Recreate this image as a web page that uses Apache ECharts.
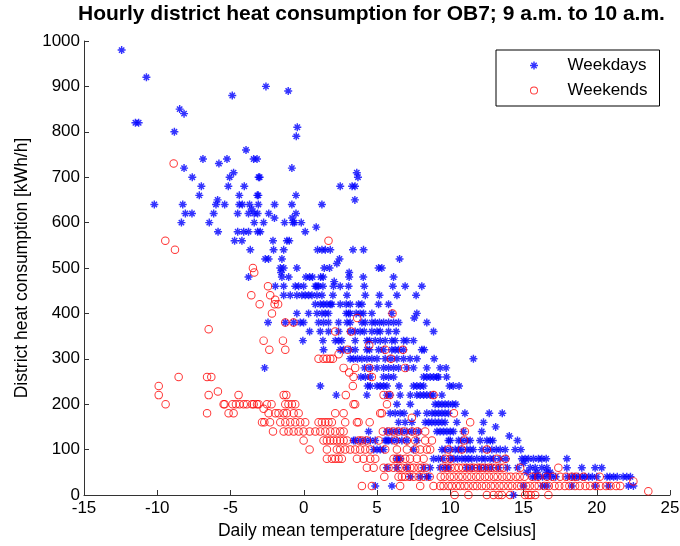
<!DOCTYPE html>
<html>
<head>
<meta charset="utf-8">
<script src="https://cdn.jsdelivr.net/npm/echarts@6/dist/echarts.min.js"></script>
<style>
  html, body { margin: 0; padding: 0; background: #fff; }
  #chart { width: 680px; height: 546px; }
</style>
</head>
<body>
<div id="chart"></div>
<script>
// Hourly district heat consumption (9-10 a.m.) against daily mean temperature.
// Each row: [consumption kWh/h, [daily mean temperatures in degC]]
const titleText = 'Hourly district heat consumption for OB7; 9 a.m. to 10 a.m.';
const xName = 'Daily mean temperature [degree Celsius]';
const yName = 'District heat consumption [kWh/h]';
const seriesNames = ['Weekdays', 'Weekends'];
const xTicks = [-15, -10, -5, 0, 5, 10, 15, 20, 25];
const yTicks = [0, 100, 200, 300, 400, 500, 600, 700, 800, 900, 1000];

const weekdayRows = [
  [980, [-12.43]],
  [920, [-10.74]],
  [900, [-2.58]],
  [890, [-1.06]],
  [880, [-4.88]],
  [850, [-8.47]],
  [840, [-8.17]],
  [820, [-11.49, -11.27]],
  [810, [-0.44]],
  [800, [-8.83]],
  [790, [-0.51]],
  [760, [-3.94]],
  [740, [-6.88, -5.24, -3.42, -3.19]],
  [730, [-5.79]],
  [720, [-8.17, -0.81]],
  [710, [-4.79, 3.62]],
  [700, [-7.61, -5.06, -3.08, -3.01, 3.7]],
  [680, [-6.99, -5.15, -4.06, 2.49, 3.3, 3.5]],
  [660, [-7.13, -4.4, -3.17, -3.1, -0.53]],
  [650, [-5.88, 3.49]],
  [640, [-10.2, -8.26, -5.99, -5.4, -4.4, -4.19, -3.7, -3.1, -1.99, -0.81, 1.24]],
  [630, [-3.55]],
  [620, [-8.08, -7.63, -6.15, -4.51, -3.77, -3.38, -3.15, -2.39, -0.53]],
  [610, [-2.0, -0.79]],
  [600, [-8.35, -6.45, -3.38, -2.74, -1.31, -0.74, -0.63, -0.17]],
  [590, [0.85]],
  [580, [-5.85, -4.51, -4.1, -3.77, -3.15, -2.97, 0.1]],
  [560, [-4.72, -4.22, -2.1, -1.15, -0.99]],
  [540, [-3.65, -2.06, -1.37, 0.94, 1.24, 1.47, 1.81, 3.36, 4.08]],
  [520, [-2.63, -2.4, -1.49, 2.44, 6.54]],
  [510, [2.26]],
  [500, [-1.6, -1.37, -0.47, 1.4, 1.76, 5.11, 5.33]],
  [490, [-1.55, 3.1]],
  [480, [-3.77, -1.49, -1.03, 0.15, 0.4, 0.6, 1.15, 1.33, 3.1, 4.06, 6.13]],
  [470, [2.08]],
  [460, [-1.94, -1.37, -0.58, -0.35, -0.01, 0.79, 0.9, 1.01, 1.31, 2.03, 2.49, 3.06, 4.13, 6.08, 6.92, 8.06]],
  [440, [-1.37, -0.92, -0.47, -0.13, 0.1, 0.33, 0.56, 0.9, 1.24, 1.99, 2.95, 4.2, 5.17, 6.36, 7.67]],
  [420, [0.79, 1.13, 1.35, 1.58, 1.81, 1.92, 2.49, 2.9, 3.17, 3.74, 3.97, 5.11, 5.79]],
  [400, [-0.47, 0.33, 0.9, 1.24, 1.47, 1.69, 2.9, 3.06, 3.17, 3.58, 3.85, 4.08, 4.65, 6.01, 7.72]],
  [390, [7.54]],
  [380, [-2.44, -1.26, -0.69, -0.24, -0.01, 1.01, 1.35, 1.69, 2.38, 2.95, 3.17, 3.97, 4.2, 4.65, 4.88, 5.17, 5.45, 5.79, 6.13, 6.47, 8.4]],
  [360, [0.4, 1.13, 1.69, 2.38, 3.17, 3.51, 3.85, 4.13, 4.65, 5.0, 5.22, 5.79, 6.31, 8.86]],
  [340, [-0.06, 1.31, 2.15, 2.38, 2.6, 3.51, 4.31, 4.49, 4.88, 5.22, 5.56, 6.01, 6.24, 6.81, 7.04, 7.49]],
  [320, [1.35, 2.49, 2.72, 3.17, 3.51, 4.31, 4.49, 5.11, 5.45, 6.01, 6.24, 6.47, 6.81, 8.06, 8.22]],
  [300, [3.17, 3.4, 3.67, 3.97, 4.31, 4.65, 5.0, 5.56, 5.95, 6.36, 6.81, 7.26, 7.72, 8.9, 11.58]],
  [280, [-2.67, 4.15, 4.54, 5.0, 5.45, 5.79, 6.13, 6.47, 7.04, 7.49, 8.4, 9.31, 9.72]],
  [260, [3.9, 4.2, 4.54, 5.45, 5.79, 6.13, 8.18, 8.4, 8.63, 8.86, 9.09, 9.2, 9.75]],
  [240, [1.13, 4.36, 4.54, 5.0, 5.22, 5.45, 5.68, 6.5, 7.49, 7.72, 7.95, 8.18, 9.95, 10.2, 10.6]],
  [220, [2.22, 4.31, 5.67, 5.9, 6.58, 7.27, 7.72, 7.95, 8.18, 8.4, 8.63, 8.86, 9.43]],
  [200, [6.36, 7.27, 8.97, 9.2, 9.43, 9.65, 9.88, 10.15, 10.38]],
  [180, [5.9, 6.24, 6.58, 6.85, 7.75, 8.4, 8.75, 8.97, 9.2, 9.43, 9.65, 9.88, 11.0, 12.66, 13.55]],
  [160, [6.47, 6.92, 7.38, 8.29, 8.52, 8.74, 8.97, 9.2, 9.43, 9.65, 10.45, 12.27]],
  [150, [13.1]],
  [140, [4.43, 5.68, 6.01, 6.36, 6.7, 7.04, 7.38, 7.84, 9.09, 9.31, 9.54, 9.77, 10.0, 10.22, 10.9, 12.15]],
  [130, [14.03]],
  [120, [3.4, 3.51, 3.85, 4.2, 4.54, 4.88, 5.56, 5.68, 5.79, 6.02, 6.36, 6.7, 7.04, 7.72, 9.88, 10.0, 10.56, 10.79, 11.13, 11.36, 12.04, 12.5, 12.73, 12.9, 14.59]],
  [100, [4.77, 5.0, 5.22, 5.45, 7.49, 9.43, 9.65, 10.0, 10.34, 10.56, 10.79, 11.13, 11.36, 11.58, 12.16, 12.54, 12.84, 13.14, 13.41, 13.75, 14.43, 14.82]],
  [80, [6.36, 6.58, 8.86, 9.2, 9.5, 10.0, 10.25, 10.5, 10.79, 11.02, 11.24, 11.47, 11.81, 12.15, 12.38, 12.72, 12.95, 13.4, 13.8, 14.89, 15.11, 15.34, 15.68, 16.02, 16.25, 16.55, 17.96]],
  [70, [15.0]],
  [60, [5.68, 6.36, 7.04, 8.18, 8.63, 9.31, 9.65, 9.88, 11.13, 11.5, 12.0, 12.4, 12.8, 13.3, 13.9, 14.6, 15.46, 15.8, 16.25, 16.59, 17.96, 18.98, 19.89, 20.34]],
  [50, [15.23, 15.91, 16.59, 16.82]],
  [40, [7.27, 7.95, 8.4, 8.52, 15.6, 15.8, 16.0, 16.3, 16.6, 16.9, 17.2, 18.0, 18.3, 18.5, 18.75, 19.0, 19.2, 19.45, 19.7, 20.0, 20.7, 20.9, 21.15, 21.4, 21.8, 22.05, 22.3]],
  [20, [4.88, 6.02, 15.0, 16.3, 16.6, 18.3, 19.9, 20.8, 22.16, 22.5]],
  [0, [14.32]]
];

const weekendRows = [
  [730, [-8.88]],
  [560, [-9.45, 1.69]],
  [540, [-8.79]],
  [500, [-3.47]],
  [490, [-3.38]],
  [460, [-2.44]],
  [440, [-3.58, -2.29]],
  [430, [-1.95]],
  [420, [-3.01, -1.99, -1.75]],
  [400, [-2.17, 6.06]],
  [390, [3.65]],
  [380, [-1.26, -0.7]],
  [365, [-6.49]],
  [360, [2.15, 3.24]],
  [340, [-2.74, -1.42]],
  [330, [4.47]],
  [320, [-2.35, -1.26, 2.99, 5.56, 6.77]],
  [310, [2.38]],
  [300, [1.01, 1.35, 1.58, 1.81, 1.99, 5.95]],
  [280, [2.72, 3.51, 4.47, 6.92]],
  [270, [3.1]],
  [260, [-8.54, -6.6, -6.31, 3.4, 4.65]],
  [240, [-9.9, 3.35]],
  [228, [-5.86]],
  [220, [-9.9, -6.49, -4.45, -1.37, -1.19, 2.87, 5.45, 5.85, 8.86]],
  [200, [-9.43, -5.47, -5.4, -4.86, -4.63, -4.38, -4.1, -3.88, -3.53, -3.42, -3.19, -3.08, -2.51, -2.2, -1.26, -1.04, -0.81, -0.58, 3.4, 3.51, 5.68]],
  [190, [-2.74]],
  [180, [-6.6, -5.13, -4.79, -2.4, -1.94, -1.72, -1.37, -1.15, -0.69, -0.35, 2.15, 2.72, 5.22, 5.33, 10.25]],
  [170, [7.38]],
  [160, [-2.85, -2.69, -2.3, -1.6, -1.26, -0.92, -0.58, -0.24, 0.1, 1.01, 1.24, 1.47, 1.69, 1.92, 2.83, 3.63, 3.74, 4.5, 11.36]],
  [140, [-2.1, -1.37, -1.04, -0.69, -0.35, -0.01, 0.4, 0.79, 1.13, 1.47, 1.81, 2.15, 2.49, 2.72, 5.4, 5.79, 6.13, 6.47, 6.85, 7.4, 7.75, 8.29, 11.0]],
  [120, [-0.01, 1.35, 1.58, 1.81, 2.03, 2.26, 2.49, 2.72, 2.95, 3.74, 3.97, 4.31, 5.11, 6.24, 7.04, 7.61, 8.29, 8.75, 10.95]],
  [100, [0.4, 1.58, 2.26, 2.49, 2.83, 3.17, 3.51, 3.85, 4.2, 4.54, 5.56, 6.36, 7.04, 7.61, 7.95, 8.4, 8.63, 9.88, 10.79, 12.5]],
  [80, [1.58, 1.92, 2.15, 2.38, 2.6, 3.63, 4.08, 4.54, 4.88, 6.13, 6.36, 6.58, 6.93, 7.26, 7.72, 8.18, 9.65, 10.0, 13.18, 13.77]],
  [60, [4.31, 4.77, 5.45, 5.79, 6.13, 6.47, 6.7, 7.04, 7.27, 7.5, 7.84, 8.06, 8.35, 9.5, 9.77, 10.02, 10.31, 10.58, 10.86, 11.1, 11.37, 11.6, 11.88, 12.1, 12.33, 12.62, 12.85, 13.12, 13.4, 13.64, 14.77, 17.38]],
  [40, [5.5, 6.47, 6.7, 6.92, 7.2, 7.5, 7.84, 8.18, 8.6, 9.35, 9.62, 9.97, 10.24, 10.57, 10.83, 11.16, 11.44, 11.77, 12.03, 12.36, 12.64, 12.97, 13.23, 13.55, 13.86, 14.13, 14.47, 14.74, 15.06, 15.6, 16.0, 16.6, 17.0, 17.5, 17.9, 18.3, 18.6, 19.1, 20.2]],
  [30, [22.5]],
  [20, [3.97, 4.65, 6.58, 7.95, 8.86, 9.31, 9.54, 9.88, 10.11, 10.42, 10.68, 10.97, 11.24, 11.57, 11.83, 12.16, 12.44, 12.77, 13.03, 13.36, 13.64, 13.96, 14.23, 14.57, 14.84, 15.17, 15.43, 15.76, 16.04, 16.42, 16.73, 17.12, 17.44, 17.82, 18.13, 18.52, 18.84, 19.23, 19.54, 19.92, 20.24, 20.63, 20.94, 21.32, 21.6]],
  [8, [23.52]],
  [0, [10.3, 11.24, 12.5, 12.95, 13.3, 13.52, 14.09, 15.11, 15.34, 15.5, 15.8, 16.7]]
];

function toPoints(rows) {
  return rows.flatMap(([load, temps]) => temps.map(t => [t, load]));
}

const FONT = '"Liberation Sans", Arial, Helvetica, sans-serif';
// asterisk marker: horizontal, vertical and two diagonal strokes
const ASTERISK = 'path://M0 4.1H10V5.9H0Z M4.1 0H5.9V10H4.1Z M1.0 2.3L2.3 1.0L9.0 7.7L7.7 9.0Z M7.7 1.0L9.0 2.3L2.3 9.0L1.0 7.7Z';
// hollow circle marker (ring with transparent centre)
const RING = 'path://M0 5A5 5 0 1 1 10 5A5 5 0 1 1 0 5Z M1.15 5A3.85 3.85 0 1 0 8.85 5A3.85 3.85 0 1 0 1.15 5Z';

const chart = echarts.init(document.getElementById('chart'), null, { renderer: 'canvas' });

const tickText = { fontFamily: FONT, fontSize: 17, color: '#000' };
const nameText = { fontFamily: FONT, fontSize: 17.5, color: '#000' };

chart.setOption({
  animation: false,
  backgroundColor: '#fff',
  title: {
    text: titleText,
    left: 78,
    top: 4,
    padding: 0,
    textStyle: { fontFamily: FONT, fontSize: 21, fontWeight: 'bold', color: '#000' }
  },
  legend: {
    data: seriesNames,
    orient: 'vertical',
    left: 496,
    top: 50,
    itemWidth: 57,
    itemHeight: 8,
    itemGap: 8,
    padding: [7, 12, 7, 34],
    borderColor: '#000',
    borderWidth: 1,
    backgroundColor: '#fff',
    selectedMode: false,
    textStyle: { fontFamily: FONT, fontSize: 17, color: '#000' }
  },
  grid: { left: 84, right: 10, top: 41, bottom: 51, outerBoundsMode: 'none' },
  xAxis: {
    type: 'value',
    min: xTicks[0],
    max: xTicks[xTicks.length - 1],
    interval: xTicks[1] - xTicks[0],
    name: xName,
    nameLocation: 'middle',
    nameGap: 27,
    nameTextStyle: nameText,
    axisLine: { show: true, onZero: false, lineStyle: { color: '#333', width: 1 } },
    axisTick: { show: true, inside: true, length: 5, lineStyle: { color: '#333' } },
    axisLabel: Object.assign({ margin: 5, showMinLabel: true, showMaxLabel: true, formatter: v => String(v) }, tickText),
    splitLine: { show: false }
  },
  yAxis: {
    type: 'value',
    min: yTicks[0],
    max: yTicks[yTicks.length - 1],
    interval: yTicks[1] - yTicks[0],
    name: yName,
    nameLocation: 'middle',
    nameGap: 49,
    nameRotate: 90,
    nameTextStyle: nameText,
    axisLine: { show: true, onZero: false, lineStyle: { color: '#333', width: 1 } },
    axisTick: { show: true, inside: true, length: 5, lineStyle: { color: '#333' } },
    axisLabel: Object.assign({ margin: 4, showMinLabel: true, showMaxLabel: true, formatter: v => String(v) }, tickText),
    splitLine: { show: false }
  },
  series: [
    {
      name: seriesNames[0],
      type: 'scatter',
      data: toPoints(weekdayRows),
      symbol: ASTERISK,
      symbolSize: 8,
      itemStyle: { color: '#0000ff' },
      silent: true,
      z: 2
    },
    {
      name: seriesNames[1],
      type: 'scatter',
      data: toPoints(weekendRows),
      symbol: RING,
      symbolSize: 8.5,
      itemStyle: { color: '#ff0000' },
      silent: true,
      z: 3
    }
  ]
});
</script>
</body>
</html>
